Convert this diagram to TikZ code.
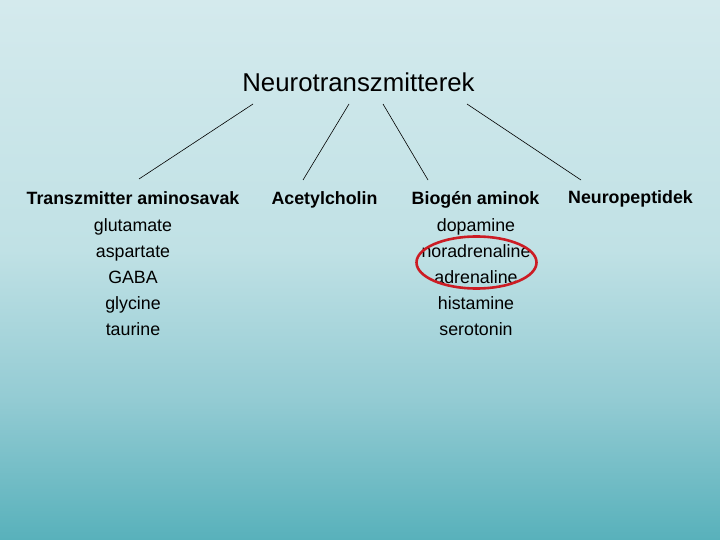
\documentclass[tikz,border=0pt]{standalone}
\usepackage{fontspec}
\setmainfont{Liberation Sans}
\definecolor{bgtop}{HTML}{D4EAED}
\definecolor{bgmid}{HTML}{C0E1E5}
\definecolor{bglow}{HTML}{93CBD3}
\definecolor{bgend}{HTML}{58B1BB}
\definecolor{ringred}{RGB}{204,28,36}

\begin{document}
\begin{tikzpicture}[x=1pt,y=-1pt]
\tikzstyle{title}=[font=\fontsize{25.8}{30}\selectfont, anchor=base, inner sep=0pt]
\tikzstyle{group}=[font=\bfseries\fontsize{17.8}{21}\selectfont, anchor=base, inner sep=0pt]
\tikzstyle{item}=[font=\fontsize{17.8}{21}\selectfont, anchor=base, inner sep=0pt]
\tikzstyle{connect}=[black, line width=0.6pt]
\tikzstyle{ring}=[draw=ringred, line width=2.6pt]
  \useasboundingbox (0,0) rectangle (720,540);
  % background
  \shade[top color=bgtop, bottom color=bgmid] (0,0) rectangle (720,250.5);
  \shade[top color=bgmid, bottom color=bglow] (0,250) rectangle (720,400.5);
  \shade[top color=bglow, bottom color=bgend] (0,400) rectangle (720,540);
  \node[title] (neuro) at (358.5,92) {Neurotranszmitterek};
  \node[group] (amino) at (133,205) {Transzmitter aminosavak};
  \node[group] (ach) at (324.5,205) {Acetylcholin};
  \node[group] (biogen) at (475.5,205) {Biogén aminok};
  \node[group] (pept) at (630.5,204) {Neuropeptidek};
  \foreach \t [count=\i] in {glutamate,aspartate,GABA,glycine,taurine}
    \node[item] (amino\i) at (133,205+26*\i) {\t};
  \foreach \t [count=\i] in {dopamine,noradrenaline,adrenaline,histamine,serotonin}
    \node[item] (biogen\i) at (476,205+26*\i) {\t};
  % line ends
  \coordinate (neuro1) at (253,104);
  \coordinate (neuro2) at (349,104);
  \coordinate (neuro3) at (383,104);
  \coordinate (neuro4) at (467,104);
  \coordinate (amino0) at (139,179);
  \coordinate (ach0) at (303,180);
  \coordinate (biogen0) at (428,180);
  \coordinate (pept0) at (581,180);
  \draw[connect] (neuro1) -- (amino0);
  \draw[connect] (neuro2) -- (ach0);
  \draw[connect] (neuro3) -- (biogen0);
  \draw[connect] (neuro4) -- (pept0);
  \draw[ring] (476.5,262.5) ellipse [x radius=60, y radius=26];
\end{tikzpicture}
\end{document}
